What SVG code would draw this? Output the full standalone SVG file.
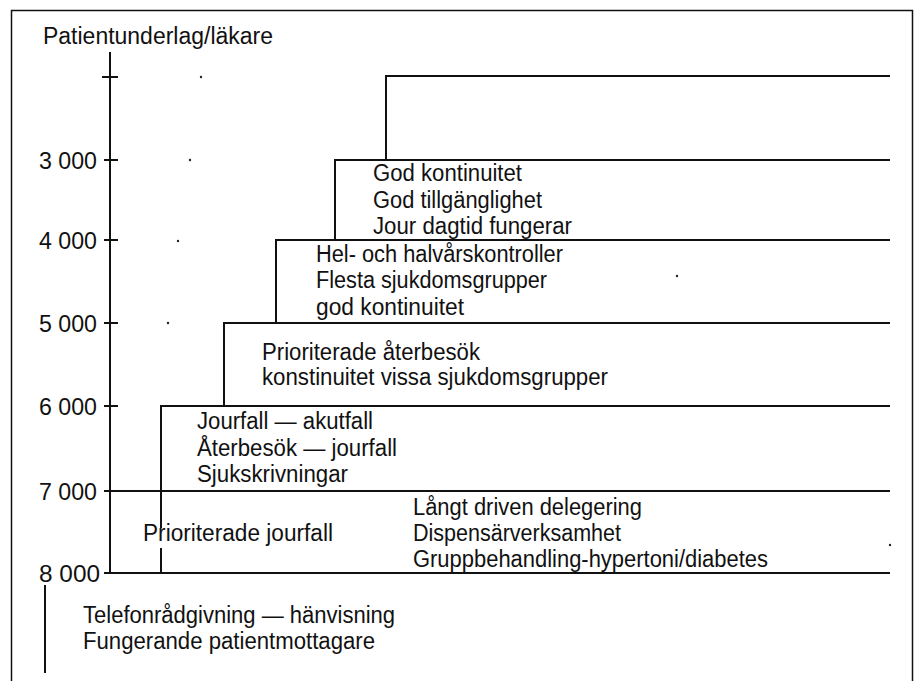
<svg xmlns="http://www.w3.org/2000/svg" width="914" height="681" viewBox="0 0 914 681">
<style>
text{font-family:"Liberation Sans",Arial,sans-serif;font-size:23px;fill:#111}
.ln{stroke:#111;stroke-width:2;fill:none}
.bd{stroke:#111;stroke-width:1.5;fill:none}
.dot{fill:#222}
</style>
<rect x="0" y="0" width="914" height="681" fill="#fff"/>
<g id="frame">
<path class="bd" d="M11.5 685 V10.5 H912.5 V685"/>
</g>
<g id="axis">
<text x="43" y="44" textLength="230" lengthAdjust="spacingAndGlyphs">Patientunderlag/läkare</text>
<path class="ln" d="M110 52 V573 M102 77 H118 M104 160 H118 M104 240 H118 M104 323 H118 M104 406 H118"/>
<text x="97" y="169" text-anchor="end" textLength="58" lengthAdjust="spacingAndGlyphs">3 000</text>
<text x="97" y="249" text-anchor="end" textLength="58" lengthAdjust="spacingAndGlyphs">4 000</text>
<text x="97" y="332" text-anchor="end" textLength="58" lengthAdjust="spacingAndGlyphs">5 000</text>
<text x="97" y="415" text-anchor="end" textLength="58" lengthAdjust="spacingAndGlyphs">6 000</text>
<text x="97" y="500" text-anchor="end" textLength="58" lengthAdjust="spacingAndGlyphs">7 000</text>
<text x="100" y="582" text-anchor="end" textLength="61" lengthAdjust="spacingAndGlyphs">8 000</text>
</g>
<g id="connectors">
<path class="ln" d="M386 160 V76 H890"/>
<path class="ln" d="M335 240 V160 H890"/>
<path class="ln" d="M276 323 V240 H890"/>
<path class="ln" d="M224 406 V323 H890"/>
<path class="ln" d="M161 528 V406 H890"/>
<path class="ln" d="M161 548 V573"/>
<path class="ln" d="M104 491 H890"/>
<path class="ln" d="M104 573 H890"/>
<path class="ln" d="M45 585 V673"/>
</g>
<g id="level-3000">
<text x="373" y="181" textLength="149" lengthAdjust="spacingAndGlyphs">God kontinuitet</text>
<text x="373" y="207.5" textLength="169" lengthAdjust="spacingAndGlyphs">God tillgänglighet</text>
<text x="373" y="234" textLength="199" lengthAdjust="spacingAndGlyphs">Jour dagtid fungerar</text>
</g>
<g id="level-4000">
<text x="316" y="262" textLength="247" lengthAdjust="spacingAndGlyphs">Hel- och halvårskontroller</text>
<text x="316" y="288" textLength="231" lengthAdjust="spacingAndGlyphs">Flesta sjukdomsgrupper</text>
<text x="316" y="315" textLength="148" lengthAdjust="spacingAndGlyphs">god kontinuitet</text>
</g>
<g id="level-5000">
<text x="262" y="360" textLength="218" lengthAdjust="spacingAndGlyphs">Prioriterade återbesök</text>
<text x="262" y="385" textLength="346" lengthAdjust="spacingAndGlyphs">konstinuitet vissa sjukdomsgrupper</text>
</g>
<g id="level-6000">
<text x="197" y="429" textLength="176" lengthAdjust="spacingAndGlyphs">Jourfall — akutfall</text>
<text x="197" y="456" textLength="200" lengthAdjust="spacingAndGlyphs">Återbesök — jourfall</text>
<text x="197" y="482" textLength="151" lengthAdjust="spacingAndGlyphs">Sjukskrivningar</text>
</g>
<g id="level-7000">
<text x="143" y="541" textLength="190" lengthAdjust="spacingAndGlyphs">Prioriterade jourfall</text>
<text x="413" y="515" textLength="229" lengthAdjust="spacingAndGlyphs">Långt driven delegering</text>
<text x="413" y="541" textLength="208" lengthAdjust="spacingAndGlyphs">Dispensärverksamhet</text>
<text x="413" y="567" textLength="355" lengthAdjust="spacingAndGlyphs">Gruppbehandling-hypertoni/diabetes</text>
</g>
<g id="level-8000">
<text x="83" y="623" textLength="312" lengthAdjust="spacingAndGlyphs">Telefonrådgivning — hänvisning</text>
<text x="83" y="649" textLength="292" lengthAdjust="spacingAndGlyphs">Fungerande patientmottagare</text>
</g>
<g id="specks">
<circle class="dot" cx="201" cy="77" r="1.2"/>
<circle class="dot" cx="190" cy="160" r="1.2"/>
<circle class="dot" cx="178" cy="241" r="1.2"/>
<circle class="dot" cx="168" cy="323" r="1.2"/>
<circle class="dot" cx="677" cy="276" r="1.2"/>
<circle class="dot" cx="890" cy="545" r="1.2"/>
</g>
</svg>
